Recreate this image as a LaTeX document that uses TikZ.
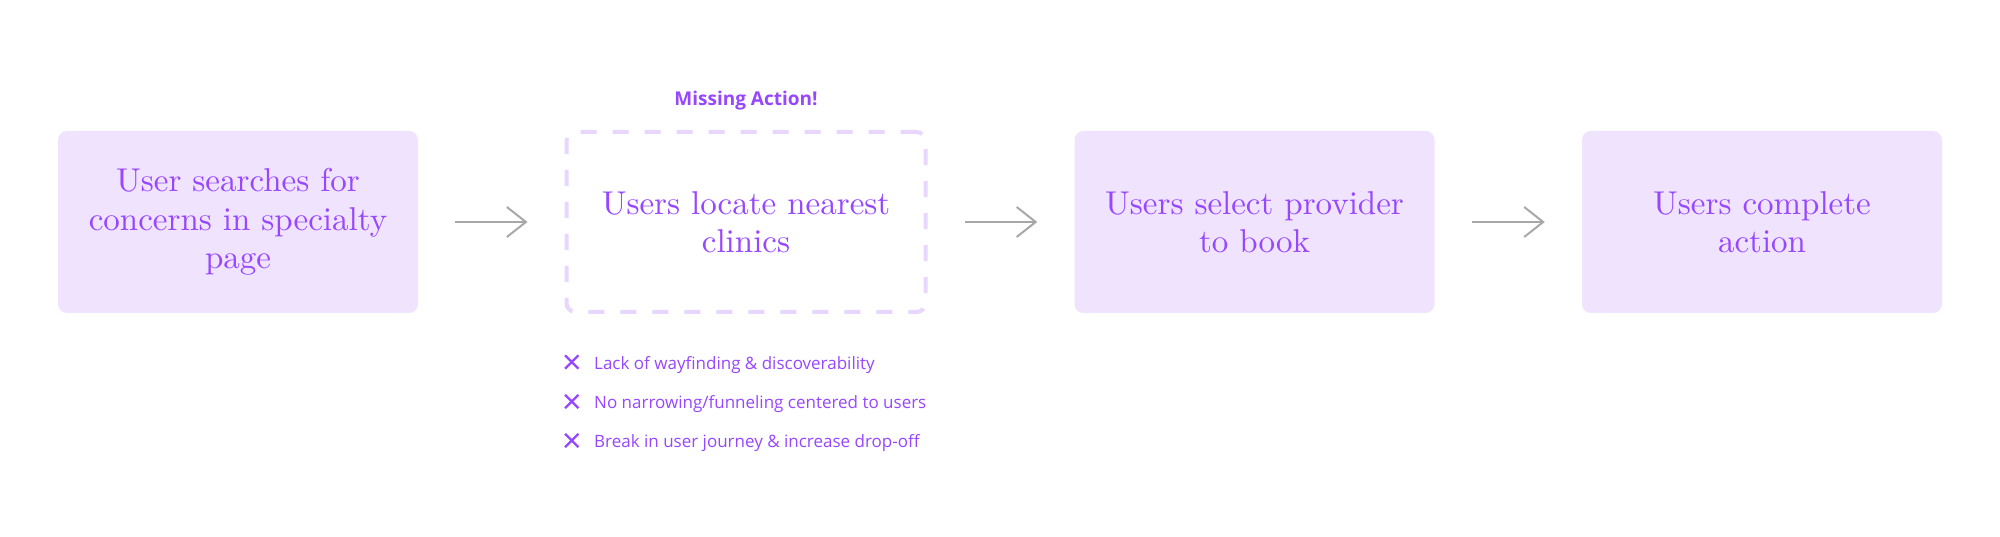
\documentclass[tikz,border=0pt]{standalone}
\usepackage{fontspec}
\setmainfont{Latin Modern Roman}
\newfontfamily\boxserif{lmroman10-regular.otf}
\newfontfamily\uisans{Open Sans}
\usetikzlibrary{arrows.meta,shapes.misc}
\definecolor{ink}{HTML}{9747FF}
\definecolor{boxfill}{HTML}{F0E3FE}
\definecolor{dashcol}{HTML}{E8D6FD}
\definecolor{arrowcol}{HTML}{A8A8A8}
\tikzset{
  stepbox/.style={minimum width=360pt, minimum height=182pt, inner sep=0pt,
    rounded corners=9pt, align=center, text=ink,
    font=\boxserif\fontsize{33}{38.5}\selectfont},
  filledbox/.style={stepbox, fill=boxfill},
  missingbox/.style={stepbox, draw=dashcol, line width=4pt,
    dash pattern=on 16pt off 16pt, minimum width=359pt, minimum height=180pt},
  flowarrow/.style={draw=arrowcol, line width=2pt,
    -{Straight Barb[length=19pt, width=30pt, line width=2pt]},
    shorten <=37pt, shorten >=37pt},
  crossmark/.style={cross out, draw=ink, line width=2.4pt, minimum size=11pt, inner sep=0pt},
  bullettext/.style={anchor=base west, inner sep=0pt, text=ink, font=\uisans\fontsize{17}{20}\selectfont},
}
\begin{document}
\begin{tikzpicture}[x=1pt,y=-1pt]
\useasboundingbox (0,0) rectangle (2000,537);
\fill[white] (0,0) rectangle (2000,537);
\node[filledbox] (b1) at (238,222) {User searches for\\concerns in specialty\\page};
\node[missingbox] (b2) at (746,222) {Users locate nearest\\clinics};
\node[filledbox] (b3) at (1254.5,222) {Users select provider\\to book};
\node[filledbox] (b4) at (1762,222) {Users complete\\action};
\node[text=ink, font=\uisans\bfseries\fontsize{19}{22}\selectfont, anchor=base] (ma) at (746,106) {Missing Action!};
\draw[flowarrow] (b1.east) -- (b2.west);
\draw[flowarrow] (b2.east) -- (b3.west);
\draw[flowarrow] (b3.east) -- (b4.west);
\node[crossmark] (x1) at (571.7,362) {};
\node[crossmark] (x2) at (571.7,401.5) {};
\node[crossmark] (x3) at (571.7,440.5) {};
\node[bullettext] (t1) at (594,369) {Lack of wayfinding \& discoverability};
\node[bullettext] (t2) at (594,408) {No narrowing/funneling centered to users};
\node[bullettext] (t3) at (594,447) {Break in user journey \& increase drop-off};
\end{tikzpicture}
\end{document}
